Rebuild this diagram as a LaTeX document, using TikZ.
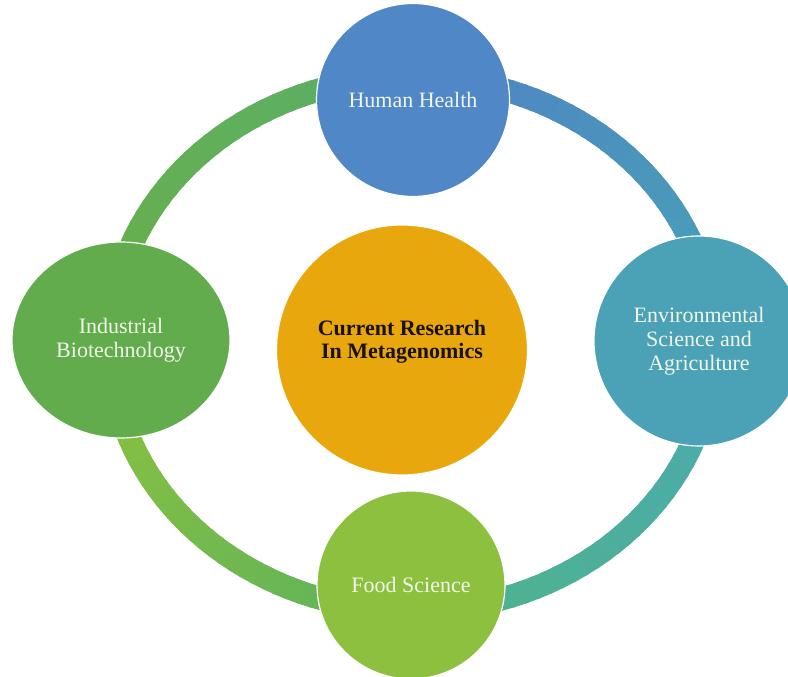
\documentclass[tikz,border=0pt]{standalone}
\usepackage{fontspec}
\setmainfont{Liberation Serif}
\usetikzlibrary{shapes.geometric}

% circle fills
\definecolor{hhblue}{HTML}{5087C7}
\definecolor{envteal}{HTML}{4BA2B6}
\definecolor{foodgreen}{HTML}{8DC03F}
\definecolor{indgreen}{HTML}{63AC4D}
\definecolor{coreamber}{HTML}{E9A70E}
\definecolor{labelwhite}{HTML}{F1F6E8}
\definecolor{coreink}{HTML}{1A1208}
% ring colour stops
\definecolor{ringA}{HTML}{4E84C4}
\definecolor{ringB}{HTML}{48A3B5}
\definecolor{ringC}{HTML}{4AA9B3}
\definecolor{ringD}{HTML}{4FB38B}
\definecolor{ringE}{HTML}{5EB25C}
\definecolor{ringF}{HTML}{8DC23D}
\definecolor{ringG}{HTML}{6AB049}
\definecolor{ringH}{HTML}{5AAE66}

\begin{document}
\begin{tikzpicture}[x=1pt,y=1pt,
  bubble/.style={ellipse, draw=white, line width=1.2pt, inner sep=0pt,
    align=center, text=labelwhite, font=\fontsize{22}{24}\selectfont},
  ringband/.style={line width=23pt, line cap=butt},
]
\fill[white] (0,0) rectangle (788,677);
\useasboundingbox (0,0) rectangle (788,677);

\coordinate (rc) at (412,333);
\def\rx{302}
\def\ry{267}

% cycle ring, four shaded quarters
\foreach \sa/\sb/\ca/\cb in {88/2/ringA/ringB, 2/-88/ringC/ringD, -92/-178/ringE/ringF, 182/92/ringG/ringH}{
  \foreach \i in {0,...,35}{
    \pgfmathsetmacro{\ta}{\sa+(\sb-\sa)*\i/36}
    \pgfmathsetmacro{\tb}{\sa+(\sb-\sa)*(\i+1.3)/36}
    \pgfmathsetmacro{\pc}{100*(1-\i/35)}
    \draw[ringband, draw=\ca!\pc!\cb] ([shift={(\ta:\rx pt and \ry pt)}]rc)
      arc[start angle=\ta, end angle=\tb, x radius=\rx pt, y radius=\ry pt];
  }
}

% topic circles
\node[bubble, fill=hhblue, minimum width=193pt, minimum height=193pt] (hh) at (413,577) {Human Health};
\node[bubble, fill=envteal, minimum width=210pt, minimum height=210pt] (env) at (699,336) {Environmental\\Science and\\Agriculture};
\node[bubble, fill=foodgreen, minimum width=188pt, minimum height=188pt] (food) at (411,92) {Food Science};
\node[bubble, fill=indgreen, minimum width=218pt, minimum height=196pt] (ind) at (121,337) {Industrial\\Biotechnology};

% centre circle
\node[bubble, fill=coreamber, minimum width=251pt, minimum height=250pt] (core) at (402,327) {};
\node[align=center, text=coreink, font=\fontsize{22}{23.5}\selectfont\bfseries] (coretitle) at (402,335) {Current Research\\In Metagenomics};
\end{tikzpicture}
\end{document}
